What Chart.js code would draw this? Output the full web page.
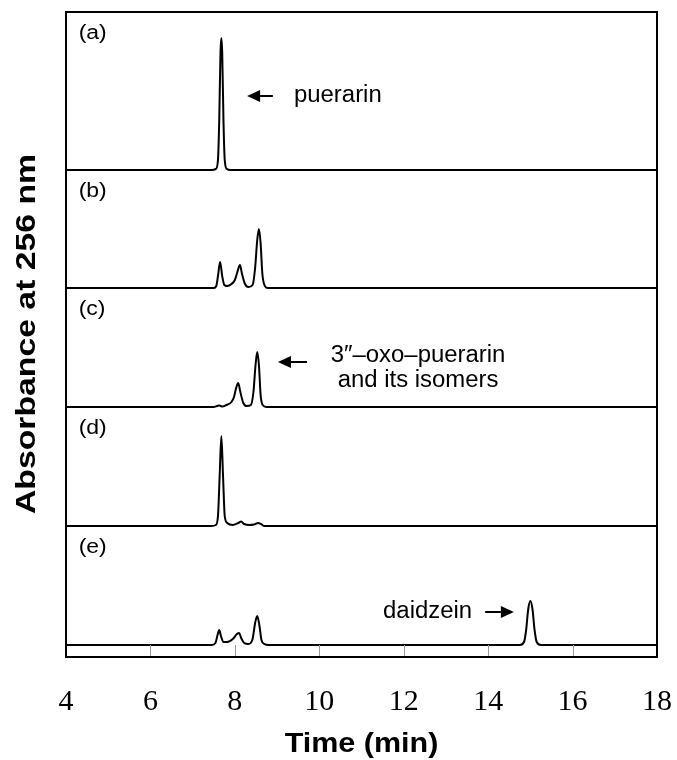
<!DOCTYPE html>
<html>
<head>
<meta charset="utf-8">
<script src="https://cdn.jsdelivr.net/npm/chart.js@4/dist/chart.umd.min.js"></script>
<style>
html,body{margin:0;padding:0;background:#fff;}
#wrap{width:677px;height:760px;position:relative;}
</style>
</head>
<body>
<div id="wrap"><canvas id="c" width="677" height="760"></canvas></div>
<script>
// ---- data ----
const xTicks = [4, 6, 8, 10, 12, 14, 16, 18];
const panelNames = ['(a)', '(b)', '(c)', '(d)', '(e)'];
const panelOffsets = [487, 369, 250, 131, 12];   // baseline of each stacked trace
const panelLabelY = [624, 466, 348, 229, 110];
const yMax = 645;

const timeA = [4, 7.45, 7.55, 7.60, 7.63, 7.66, 7.68, 7.70, 7.73, 7.76, 7.81, 7.90, 18];
const absA  = [0, 0, 1, 10, 50, 118, 132, 118, 50, 10, 1, 0, 0];

const timeB = [4, 7.50, 7.56, 7.60, 7.65, 7.70, 7.75, 7.82, 7.92, 8.00, 8.06, 8.12, 8.17, 8.24, 8.32, 8.42, 8.48, 8.53, 8.57, 8.61, 8.65, 8.70, 8.78, 18];
const absB  = [0, 0, 2, 12, 26, 12, 3, 2, 4, 8, 16, 23, 14, 4, 1, 3, 20, 48, 59, 45, 15, 3, 0, 0];

const timeC = [4, 7.50, 7.58, 7.63, 7.70, 7.80, 7.92, 7.98, 8.03, 8.08, 8.13, 8.20, 8.28, 8.38, 8.44, 8.49, 8.53, 8.57, 8.61, 8.66, 8.75, 18];
const absC  = [0, 0, 1, 1.5, 0.5, 2, 5, 10, 19, 24, 15, 4, 1, 2, 15, 42, 55, 42, 12, 2, 0, 0];

const timeD = [4, 7.45, 7.55, 7.60, 7.64, 7.68, 7.72, 7.76, 7.82, 7.95, 8.08, 8.15, 8.22, 8.35, 8.45, 8.55, 8.62, 8.70, 18];
const absD  = [0, 0, 1, 10, 50, 90, 50, 10, 3, 1, 3, 4.5, 2, 1, 1.5, 3, 2, 0, 0];

const timeE = [4, 7.45, 7.54, 7.59, 7.63, 7.67, 7.73, 7.82, 7.95, 8.05, 8.10, 8.15, 8.22, 8.32, 8.42, 8.48, 8.53, 8.58, 8.63, 8.70, 8.80, 14.75, 14.85, 14.90, 14.95, 15.00, 15.05, 15.10, 15.15, 15.25, 18];
const absE  = [0, 0, 2, 10, 15, 9, 3, 3, 6, 11, 12, 7, 2, 1, 6, 22, 29, 20, 5, 1, 0, 0, 3, 15, 36, 44, 36, 15, 3, 0, 0];

const traceTimes = [timeA, timeB, timeC, timeD, timeE];
const traceAbs = [absA, absB, absC, absD, absE];

// annotations (data coordinates)
const noteTexts = ['puerarin', '3\u2033\u2013oxo\u2013puerarin', 'and its isomers', 'daidzein'];
const noteAlign = ['left', 'center', 'center', 'left'];
const noteX = [9.40, 12.34, 12.34, 11.51];
const noteY = [561, 301, 276, 45];
const arrowTail = [[8.90, 561], [9.71, 295], [13.93, 45]];
const arrowTip  = [[8.29, 561], [9.02, 295], [14.61, 45]];

const xTitle = 'Time (min)';
const yTitle = 'Absorbance at 256 nm';

// ---- build datasets ----
const datasets = traceTimes.map((ts, i) => ({
  label: panelNames[i],
  data: ts.map((t, j) => ({x: t, y: traceAbs[i][j] + panelOffsets[i]})),
  showLine: true,
  borderColor: '#000',
  borderWidth: 2,
  pointRadius: 0,
  fill: false,
  cubicInterpolationMode: 'monotone',
  clip: false
}));

const SANS = '"Liberation Sans", Arial, Helvetica, sans-serif';
function drawText(ctx, text, x, y, size, bold, stretch, align, rotate) {
  ctx.save();
  ctx.translate(x, y);
  if (rotate) ctx.rotate(-Math.PI / 2);
  ctx.scale(stretch, 1);
  ctx.font = (bold ? 'bold ' : '') + size + 'px ' + SANS;
  ctx.textAlign = align;
  ctx.textBaseline = 'middle';
  ctx.fillStyle = '#000';
  ctx.fillText(text, 0, 0);
  ctx.restore();
}

const decor = {
  id: 'decor',
  afterDraw(chart) {
    const {ctx, chartArea: a, scales: {x, y}} = chart;
    ctx.save();
    // inner tick marks on bottom band
    ctx.strokeStyle = '#999';
    ctx.lineWidth = 1;
    xTicks.slice(1, -1).forEach(t => {
      const px = Math.round(x.getPixelForValue(t)) + 0.5;
      ctx.beginPath();
      ctx.moveTo(px, a.bottom);
      ctx.lineTo(px, y.getPixelForValue(panelOffsets[4]));
      ctx.stroke();
    });
    // frame
    ctx.strokeStyle = '#000';
    ctx.lineWidth = 2;
    ctx.strokeRect(a.left, a.top, a.right - a.left, a.bottom - a.top);
    ctx.restore();

    // panel labels
    panelNames.forEach((n, i) => drawText(ctx, n, x.getPixelForValue(4.3), y.getPixelForValue(panelLabelY[i]), 20, false, 1.15, 'left', false));
    // notes
    noteTexts.forEach((s, i) => drawText(ctx, s, x.getPixelForValue(noteX[i]), y.getPixelForValue(noteY[i]), 23, false, 1.04, noteAlign[i], false));
    // arrows
    ctx.save();
    ctx.strokeStyle = '#000';
    ctx.fillStyle = '#000';
    arrowTail.forEach((tl, i) => {
      const x1 = x.getPixelForValue(tl[0]), y1 = y.getPixelForValue(tl[1]);
      const x2 = x.getPixelForValue(arrowTip[i][0]), y2 = y.getPixelForValue(arrowTip[i][1]);
      const dir = Math.sign(x2 - x1);
      const hl = 13, hw = 6;
      ctx.lineWidth = 2;
      ctx.beginPath();
      ctx.moveTo(x1, y1);
      ctx.lineTo(x2 - dir * hl, y2);
      ctx.stroke();
      ctx.beginPath();
      ctx.moveTo(x2, y2);
      ctx.lineTo(x2 - dir * hl, y2 - hw);
      ctx.lineTo(x2 - dir * hl, y2 + hw);
      ctx.closePath();
      ctx.fill();
    });
    ctx.restore();

    // axis titles
    drawText(ctx, xTitle, (a.left + a.right) / 2, 745, 27, true, 1.13, 'center', false);
    drawText(ctx, yTitle, 28, 334, 27, true, 1.25, 'center', true);
  }
};

new Chart(document.getElementById('c'), {
  type: 'scatter',
  data: {datasets},
  options: {
    responsive: false,
    animation: false,
    layout: {padding: {top: 12, right: 20, bottom: 0, left: 0}},
    plugins: {legend: {display: false}, tooltip: {enabled: false}},
    scales: {
      x: {
        type: 'linear',
        min: 4, max: 18,
        afterBuildTicks: s => { s.ticks = xTicks.map(v => ({value: v})); },
        afterFit: s => { s.height = 103; s.paddingLeft = 0; s.paddingRight = 0; },
        grid: {display: false},
        border: {display: false},
        ticks: {
          color: '#000',
          padding: 19,
          font: {family: '"Liberation Serif", "Times New Roman", serif', size: 30}
        }
      },
      y: {
        min: 0, max: yMax,
        grid: {display: false},
        border: {display: false},
        ticks: {display: false},
        afterFit: s => { s.width = 66; }
      }
    }
  },
  plugins: [decor]
});
</script>
</body>
</html>
